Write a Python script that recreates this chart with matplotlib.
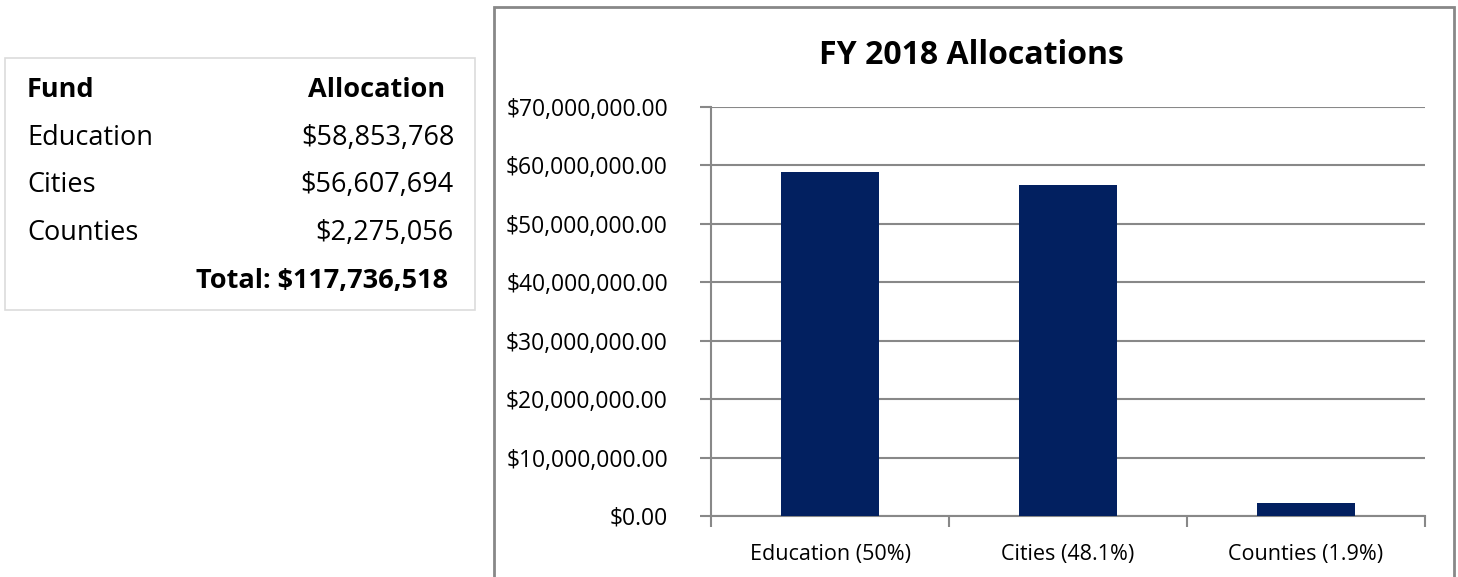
import matplotlib.pyplot as plt
from matplotlib.patches import Rectangle
from matplotlib.ticker import FuncFormatter

# data
funds = ['Education', 'Cities', 'Counties']
allocations = [58853768, 56607694, 2275056]
bar_labels = ['Education (50%)', 'Cities (48.1%)', 'Counties (1.9%)']
title = 'FY 2018 Allocations'

W, H = 1458, 577
plt.rcParams['font.family'] = ['Open Sans', 'DejaVu Sans']

fig = plt.figure(figsize=(W / 100, H / 100), dpi=100)


def fx(px):
    return px / W


def fy(py):
    return 1 - py / H


# table box on the left
fig.patches.append(Rectangle((fx(5), fy(310)), fx(470), (310 - 58) / H,
                             transform=fig.transFigure, fill=False,
                             edgecolor='#dcdcdc', lw=1.2))
fig.text(fx(27), fy(90), 'Fund', fontsize=19.5, fontweight='bold', va='center', ha='left')
fig.text(fx(445), fy(90), 'Allocation', fontsize=19.5, fontweight='bold', va='center', ha='right')
row_y = [138, 185, 233]
row_r = [455, 453, 453]
for name, val, y, r in zip(funds, allocations, row_y, row_r):
    fig.text(fx(27), fy(y), name, fontsize=19.5, va='center', ha='left')
    fig.text(fx(r), fy(y), '${:,}'.format(val), fontsize=19.5, va='center', ha='right')
fig.text(fx(448), fy(281), 'Total: ${:,}'.format(sum(allocations)), fontsize=19.5,
         fontweight='bold', va='center', ha='right')

# chart border
fig.patches.append(Rectangle((fx(494), fy(580)), fx(960), (580 - 7) / H,
                             transform=fig.transFigure, fill=False,
                             edgecolor='#888888', lw=2))

ax = fig.add_axes([fx(711), 1 - 516 / H, fx(1425 - 711), (516 - 107) / H])
x = range(len(funds))
ax.bar(x, allocations, width=0.41, color='#022060', zorder=3)

ax.set_xlim(-0.5, len(funds) - 0.5)
ax.set_ylim(0, 70000000)
ax.set_yticks(range(0, 70000001, 10000000))
ax.yaxis.set_major_formatter(FuncFormatter(lambda v, p: '${:,.2f}'.format(v)))
ax.grid(axis='y', color='#888888', lw=1.5, zorder=0)
ax.set_xticks(list(x))
ax.set_xticklabels(bar_labels, fontsize=15.5)
ax.set_xticks([i - 0.5 for i in range(len(funds) + 1)], minor=True)
ax.tick_params(axis='x', which='major', length=0, pad=20)
ax.tick_params(axis='x', which='minor', length=8, width=1.5, color='#888888', direction='out')
ax.tick_params(axis='y', length=8, width=1.5, color='#888888', labelsize=16.5, pad=23)

for s in ['top', 'right']:
    ax.spines[s].set_visible(False)
for s in ['left', 'bottom']:
    ax.spines[s].set_color('#888888')
    ax.spines[s].set_linewidth(1.5)

fig.text(fx(971), fy(55), title, fontsize=23, fontweight='bold', ha='center', va='center')

fig.savefig('out.png', dpi=100)
